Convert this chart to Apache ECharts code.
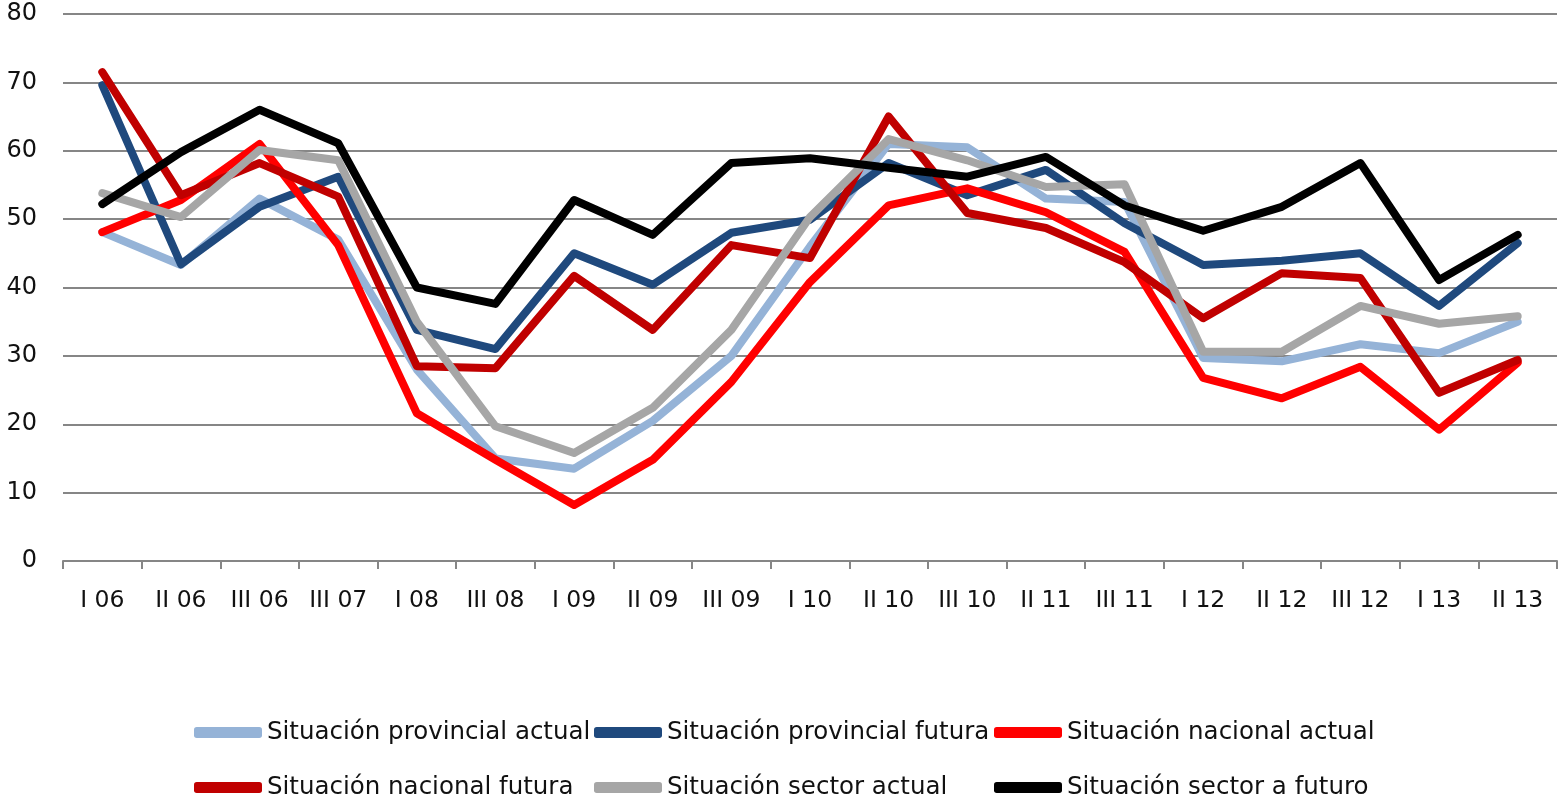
<!DOCTYPE html>
<html>
<head>
<meta charset="utf-8">
<script src="https://cdn.jsdelivr.net/npm/echarts@6/dist/echarts.min.js"></script>
<style>
html,body{margin:0;padding:0;background:#fff;}
#chart{width:1561px;height:800px;}
</style>
</head>
<body>
<div id="chart"></div>
<script>
const categories = ["I 06","II 06","III 06","III 07","I 08","III 08","I 09","II 09","III 09","I 10","II 10","III 10","II 11","III 11","I 12","II 12","III 12","I 13","II 13"];
const provincialActual = [48.1,43.3,53,47,28,15,13.5,20.5,30,46,61,60.5,53,52.5,29.7,29.2,31.7,30.4,35];
const provincialFutura = [69.6,43.4,51.8,56.2,33.8,31,45,40.4,48,49.9,58.2,53.5,57.2,49.4,43.3,43.9,45,37.3,46.5];
const nacionalActual = [48.1,52.8,61,46.2,21.6,14.8,8.2,14.8,26.2,40.8,52,54.5,51,45.2,26.8,23.8,28.4,19.2,29];
const nacionalFutura = [71.5,53.5,58.2,53.3,28.5,28.2,41.7,33.8,46.2,44.3,65,50.9,48.7,43.7,35.5,42.1,41.4,24.6,29.4];
const sectorActual = [53.8,50.3,60.1,58.6,35,19.7,15.8,22.4,33.8,50.3,61.7,58.6,54.7,55.1,30.6,30.6,37.3,34.7,35.8];
const sectorFuturo = [52.2,59.8,66,61.1,40,37.6,52.8,47.7,58.2,58.9,57.5,56.2,59.1,52,48.3,51.8,58.2,41.1,47.7];
const seriesNames = ["Situación provincial actual","Situación provincial futura","Situación nacional actual","Situación nacional futura","Situación sector actual","Situación sector a futuro"];
const seriesData = [provincialActual, provincialFutura, nacionalActual, nacionalFutura, sectorActual, sectorFuturo];
const colors = ["#95B3D7","#1F497D","#FF0000","#C00000","#A6A6A6","#000000"];
const yTicks = [0,10,20,30,40,50,60,70,80];

const chart = echarts.init(document.getElementById('chart'));
const legendPos = [[189,715],[589,715],[989,715],[189,770],[589,770],[989,770]];
const legends = seriesNames.map((n,i)=>({
  data:[n], left: legendPos[i][0], top: legendPos[i][1],
  itemWidth: 68, itemHeight: 11, itemGap: 2,
  icon: 'roundRect',
  textStyle:{fontFamily:'DejaVu Sans', fontSize:24.5, color:'#111'},
  selectedMode:false
}));
chart.setOption({
  animation:false,
  color: colors,
  grid:{left:63, right:4, top:14, bottom:239},
  legend: legends,
  xAxis:{
    type:'category', data:categories, boundaryGap:true,
    axisLine:{lineStyle:{color:'#868686', width:2}},
    axisTick:{show:true, length:8, lineStyle:{color:'#868686', width:2}},
    axisLabel:{fontFamily:'DejaVu Sans', fontSize:23.5, color:'#111', margin:28}
  },
  yAxis:{
    type:'value', min:0, max:80, interval:10,
    axisLine:{show:false}, axisTick:{show:false},
    splitLine:{lineStyle:{color:'#868686', width:2}},
    axisLabel:{fontFamily:'DejaVu Sans', fontSize:24, color:'#111', margin:26,
      formatter: v => yTicks.includes(v) ? String(v) : ''}
  },
  series: seriesNames.map((n,i)=>({
    name:n, type:'line', data:seriesData[i], symbol:'none', smooth:false,
    lineStyle:{width:8, color:colors[i], cap:'round', join:'round'},
    itemStyle:{color:colors[i]},
    z: 2+i
  }))
});
</script>
</body>
</html>
